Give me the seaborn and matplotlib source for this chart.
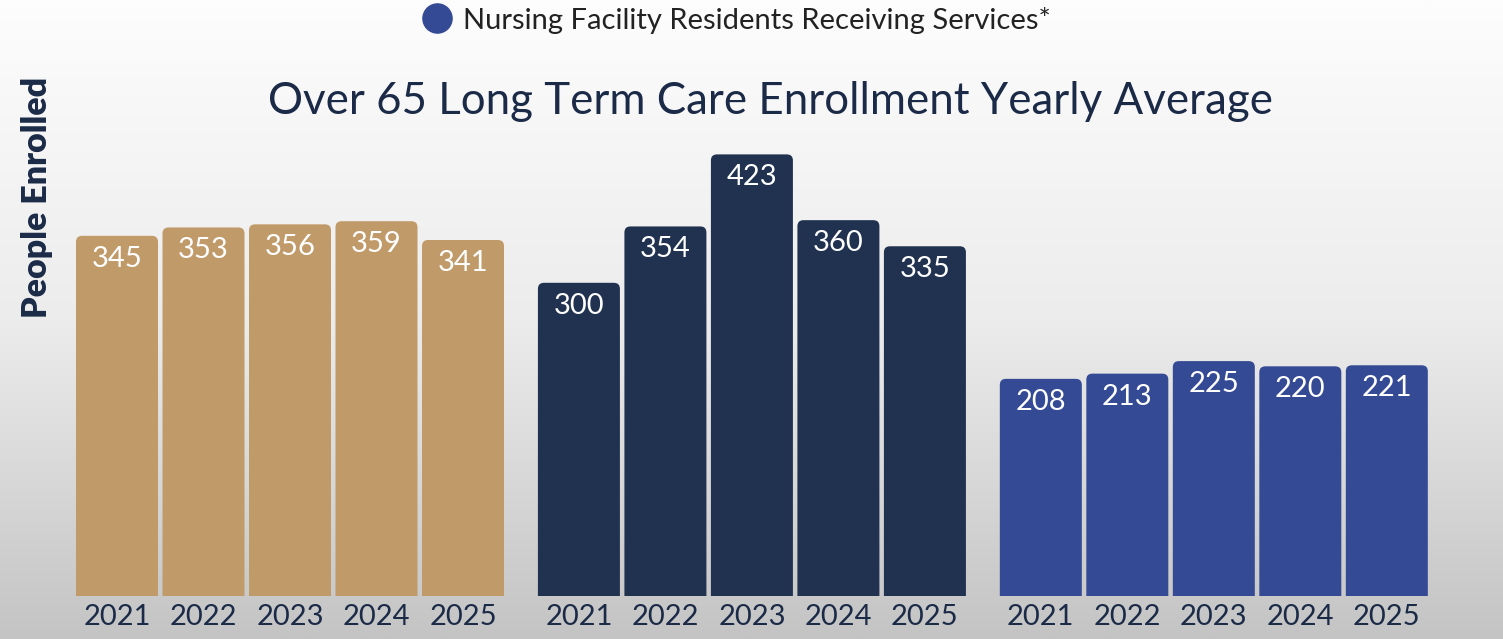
import numpy as np
import pandas as pd
import matplotlib
matplotlib.use("Agg")
import matplotlib.pyplot as plt
from matplotlib.patches import FancyBboxPatch
from matplotlib.lines import Line2D
from matplotlib.colors import LinearSegmentedColormap
import seaborn as sns

# ---- data ----
years = ["2021", "2022", "2023", "2024", "2025"]
group_names = ["Series A", "Series B", "Nursing Facility Residents Receiving Services*"]
values_a = [345, 353, 356, 359, 341]
values_b = [300, 354, 423, 360, 335]
values_c = [208, 213, 225, 220, 221]
legend_label = "Nursing Facility Residents Receiving Services*"
title = "Over 65 Long Term Care Enrollment Yearly Average"
ylabel = "People Enrolled"

colors = ["#C19A6A", "#20324F", "#344A95"]
navy_text = "#1B2A47"

# ---- layout ----
W, H = 1503, 639
DPI = 100
group_step = 5.34
rows = []
for gi, vals in enumerate([values_a, values_b, values_c]):
    for yi, (yr, v) in enumerate(zip(years, vals)):
        rows.append({"pos": gi * group_step + yi, "year": yr,
                     "group": group_names[gi], "value": v})
df = pd.DataFrame(rows)

sns.set_style("white")
plt.rcParams["font.family"] = ["Lato", "DejaVu Sans"]

fig = plt.figure(figsize=(W / DPI, H / DPI), dpi=DPI)

# background gradient
bg = fig.add_axes([0, 0, 1, 1], zorder=-10)
grad = np.linspace(0, 1, 256).reshape(-1, 1)
cmap = LinearSegmentedColormap.from_list("bg", ["#FDFDFD", "#ECECEC", "#C4C4C4"])
bg.imshow(grad, aspect="auto", cmap=cmap, extent=[0, 1, 0, 1], origin="upper")
bg.set_axis_off()

# main axes in pixel geometry
px_left, px_right = 60, 1445
base_px = 596          # baseline (from top)
top_px = 130
ppu_x = 86.5           # pixels per x unit
ppu_y = 1.044          # pixels per value unit
x0_px = 117            # center pixel of first bar
ax = fig.add_axes([px_left / W, (H - base_px) / H,
                   (px_right - px_left) / W, (base_px - top_px) / H])
ax.patch.set_alpha(0)

sns.barplot(data=df, x="pos", y="value", hue="group", palette=colors,
            native_scale=True, width=82 / 86.5, dodge=False, legend=False,
            saturation=1, ax=ax)

xlim = (-(x0_px - px_left) / ppu_x, (px_right - x0_px) / ppu_x)
ylim = (0, (base_px - top_px) / ppu_y)
ax.set_xlim(*xlim)
ax.set_ylim(*ylim)

# replace rectangles with top-rounded patches
aspect = ppu_x / ppu_y
rects = [p for p in ax.patches]
for p in rects:
    x, w, h = p.get_x(), p.get_width(), p.get_height()
    fc = p.get_facecolor()
    p.set_visible(False)
    fb = FancyBboxPatch((x, -30), w, h + 30,
                        boxstyle="round,pad=0,rounding_size=0.07",
                        mutation_aspect=aspect, fc=fc, ec="none", zorder=2)
    ax.add_patch(fb)
    ax.annotate(f"{int(round(h))}", (x + w / 2, h), xytext=(0, -23 * 72 / DPI),
                textcoords="offset points", ha="center", va="center",
                color="white", fontsize=21, fontweight="normal", zorder=3)

ax.set_xticks(df["pos"].tolist())
ax.set_xticklabels(df["year"].tolist())
ax.tick_params(axis="x", length=0, pad=6, labelsize=21, labelcolor=navy_text)
ax.set_yticks([])
ax.set_xlabel("")
ax.set_ylabel("")
for s in ax.spines.values():
    s.set_visible(False)

# title
fig.text(770 / W, 1 - 102 / H, title, ha="center", va="center",
         fontsize=31.6, color=navy_text, fontweight="normal")

# y label
fig.text(37 / W, 1 - 197 / H, ylabel, ha="center", va="center",
         rotation=90, fontsize=24.5, color=navy_text, fontweight="heavy")

# legend (only the third series shown, as in the reference)
handle = Line2D([], [], marker="o", linestyle="none", markersize=21,
                markerfacecolor=colors[2], markeredgecolor=colors[2])
leg = fig.legend([handle], [legend_label], loc="center", bbox_to_anchor=(735 / W, 1 - 20 / H),
                 frameon=False, fontsize=21, handletextpad=0.3, labelcolor="#222222",
                 handlelength=1.2)

fig.savefig("out.png", dpi=DPI)
